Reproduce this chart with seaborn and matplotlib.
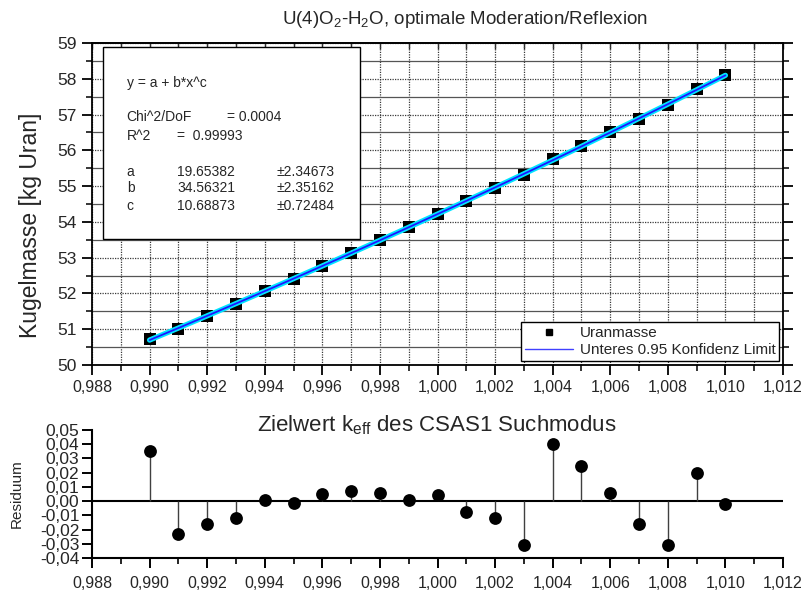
import numpy as np
import pandas as pd
import matplotlib
matplotlib.use("Agg")
import matplotlib.pyplot as plt
import seaborn as sns
from matplotlib.ticker import MultipleLocator, FuncFormatter
from matplotlib.lines import Line2D
from matplotlib.patches import Rectangle

# ---------------- data ----------------
k_eff = [0.990, 0.991, 0.992, 0.993, 0.994, 0.995, 0.996, 0.997, 0.998, 0.999, 1.000,
         1.001, 1.002, 1.003, 1.004, 1.005, 1.006, 1.007, 1.008, 1.009, 1.010]
uranmasse = [50.732, 51.010, 51.358, 51.705, 52.065, 52.413, 52.773, 53.132, 53.491, 53.850, 54.221,
             54.580, 54.951, 55.311, 55.764, 56.135, 56.505, 56.877, 57.259, 57.711, 58.094]
fit_kurve = [50.697, 51.033, 51.374, 51.717, 52.064, 52.414, 52.768, 53.125, 53.485, 53.849, 54.217,
             54.588, 54.963, 55.342, 55.724, 56.110, 56.499, 56.893, 57.290, 57.691, 58.096]
residuum = [0.035, -0.023, -0.016, -0.012, 0.001, -0.001, 0.005, 0.007, 0.006, 0.001, 0.004,
            -0.008, -0.012, -0.031, 0.040, 0.025, 0.006, -0.016, -0.031, 0.020, -0.002]

fit_params = [("a", "19.65382", "\u00b12.34673"),
              ("b", "34.56321", "\u00b12.35162"),
              ("c", "10.68873", "\u00b10.72484")]

df = pd.DataFrame({"k": k_eff, "m": uranmasse, "fit": fit_kurve, "res": residuum})

# ---------------- style ----------------
sns.set_style("ticks")
plt.rcParams['font.family'] = ['Liberation Sans', 'DejaVu Sans']
plt.rcParams['mathtext.fontset'] = 'custom'
plt.rcParams['mathtext.rm'] = 'Liberation Sans'
plt.rcParams['mathtext.it'] = 'Liberation Sans:italic'
plt.rcParams['mathtext.bf'] = 'Liberation Sans:bold'

fig = plt.figure(figsize=(8.08, 5.97), dpi=100)
W, H = 808, 597
ax_l, ax_r = 92, 783
ax1 = fig.add_axes([ax_l / W, (H - 365) / H, (ax_r - ax_l) / W, (365 - 43) / H])
ax2 = fig.add_axes([ax_l / W, (H - 558) / H, (ax_r - ax_l) / W, (558 - 430) / H])

comma3 = FuncFormatter(lambda v, p: f"{v:.3f}".replace(".", ","))
comma2 = FuncFormatter(lambda v, p: f"{v:.2f}".replace(".", ",").replace("-0,00", "0,00"))

# ---------------- upper plot ----------------
ax1.set_xlim(0.988, 1.012)
ax1.set_ylim(50, 59)
ax1.xaxis.set_major_locator(MultipleLocator(0.002))
ax1.xaxis.set_minor_locator(MultipleLocator(0.001))
ax1.yaxis.set_major_locator(MultipleLocator(1))
ax1.yaxis.set_minor_locator(MultipleLocator(0.5))
ax1.xaxis.set_major_formatter(comma3)

ax1.grid(which='both', axis='x', color='#3a3a3a', ls=(0, (1, 1)), lw=0.9)
ax1.grid(which='major', axis='y', color='#3a3a3a', ls=(0, (1, 1)), lw=0.9)
ax1.grid(which='minor', axis='y', color='#555555', ls='-', lw=0.9)
ax1.set_axisbelow(True)

sns.lineplot(data=df, x="k", y="fit", ax=ax1, color="#00e5ff", lw=3.8, legend=False, zorder=3)
sns.lineplot(data=df, x="k", y="fit", ax=ax1, color="#ff40ff", lw=0.6, legend=False, zorder=4)
sns.lineplot(data=df, x="k", y="fit", ax=ax1, color="#1a1aff", lw=1.3, legend=False, zorder=4)
sns.scatterplot(data=df, x="k", y="m", ax=ax1, marker="s", s=75, color="black",
                edgecolor="black", linewidth=0, zorder=2, legend=False)

for sp in ax1.spines.values():
    sp.set_linewidth(1.3)
    sp.set_color("black")
ax1.tick_params(axis='both', which='major', direction='out', length=7, width=1.3,
                labelsize=11.5, color='black', pad=4)
ax1.tick_params(axis='both', which='minor', direction='out', length=4, width=1.1, color='black')
ax1.tick_params(axis='y', which='major', labelsize=12.5, pad=4)
ax1.tick_params(axis='y', which='both', right=True)
sec = ax1.secondary_xaxis('top')
sec.xaxis.set_major_locator(MultipleLocator(0.002))
sec.xaxis.set_minor_locator(MultipleLocator(0.001))
sec.tick_params(which='both', direction='in', labeltop=False, length=4, width=1.0)
sec.spines['top'].set_linewidth(1.3)

ax1.set_xlabel("")
ax1.set_ylabel("Kugelmasse [kg Uran]", fontsize=16.5)
ax1.yaxis.set_label_coords((42 - ax_l) / (ax_r - ax_l), 0.435)

# fit result box
box = Rectangle((0.0155, 0.391), 0.372, 0.596, transform=ax1.transAxes,
                facecolor="white", edgecolor="black", lw=1.0, zorder=5)
ax1.add_patch(box)
fx = lambda px: (px - ax_l) / (ax_r - ax_l)
fy = lambda py: (365 - py) / (365 - 43)
tkw = dict(transform=ax1.transAxes, fontsize=10, va='center', ha='left', zorder=6)
ax1.text(fx(126.7), fy(82.7), "y = a + b*x^c", **tkw)
ax1.text(fx(126.7), fy(117.3), "Chi^2/DoF", **tkw)
ax1.text(fx(226.7), fy(117.3), "= 0.0004", **tkw)
ax1.text(fx(126.7), fy(135.7), "R^2", **tkw)
ax1.text(fx(177.0), fy(135.7), "=  0.99993", **tkw)
for i, (name, val, err) in enumerate(fit_params):
    yy = [171.7, 187.7, 205.7][i]
    ax1.text(fx(126.7), fy(yy), name, **tkw)
    ax1.text(fx(177.0), fy(yy), val, **tkw)
    ax1.text(fx(276.7), fy(yy), err, **tkw)

handles = [Line2D([], [], marker='s', ls='none', color='black', markersize=5),
           Line2D([], [], color='#4040ff', lw=1.0)]
leg = ax1.legend(handles, ["Uranmasse", "Unteres 0.95 Konfidenz Limit"], loc='lower right',
                 fontsize=11, frameon=True, fancybox=False, framealpha=1, edgecolor='black',
                 borderaxespad=0.25, handlelength=3.2, handletextpad=0.4, borderpad=0.25,
                 labelspacing=0.2)
leg.get_frame().set_linewidth(1.0)
leg.set_zorder(7)

fig.text(465 / W, 1 - 20 / H, "U(4)O$_2$-H$_2$O, optimale Moderation/Reflexion",
         fontsize=13.5, ha='center', va='center')

# ---------------- lower plot (residuals) ----------------
ax2.set_xlim(0.988, 1.012)
ax2.set_ylim(-0.04, 0.05)
ax2.xaxis.set_major_locator(MultipleLocator(0.002))
ax2.xaxis.set_minor_locator(MultipleLocator(0.001))
ax2.yaxis.set_major_locator(MultipleLocator(0.01))
ax2.xaxis.set_major_formatter(comma3)
ax2.yaxis.set_major_formatter(comma2)

ax2.axhline(0, color='black', lw=1.5, zorder=1)
ax2.vlines(df["k"], 0, df["res"], color='#404040', lw=1.0, zorder=1)
sns.scatterplot(data=df, x="k", y="res", ax=ax2, marker="o", s=85, color="black",
                edgecolor="black", linewidth=0, zorder=3, legend=False)

sns.despine(ax=ax2, top=True, right=True)
for side in ("left", "bottom"):
    ax2.spines[side].set_linewidth(1.5)
    ax2.spines[side].set_color("black")
ax2.tick_params(axis='both', which='major', direction='out', length=7, width=1.4,
                color='black')
ax2.tick_params(axis='x', which='major', labelsize=11.5, pad=6)
ax2.tick_params(axis='x', which='minor', direction='out', length=4, width=1.2, color='black')
ax2.tick_params(axis='y', which='major', labelsize=12.5, pad=2)
ax2.set_xlabel("")
ax2.set_ylabel("Residuum", fontsize=11)
ax2.yaxis.set_label_coords((24 - ax_l) / (ax_r - ax_l), 0.5)

fig.text(436.5 / W, 1 - 425 / H, r"Zielwert k$_{\mathrm{eff}}$ des CSAS1 Suchmodus",
         fontsize=16, ha='center', va='center')

fig.savefig("out.png", dpi=100)
